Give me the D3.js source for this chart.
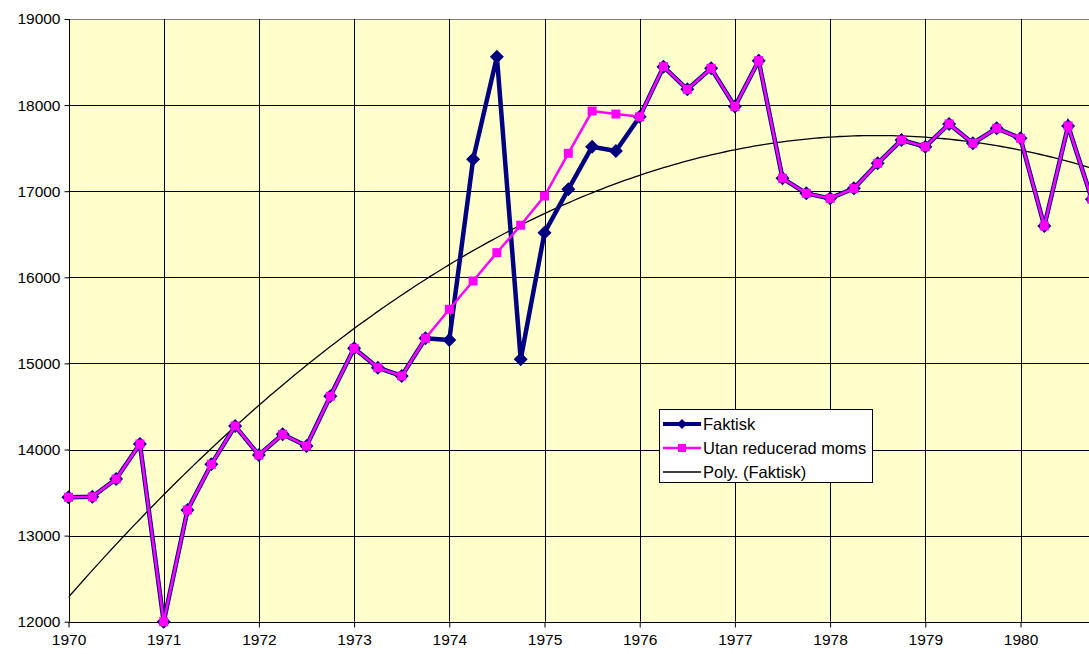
<!DOCTYPE html>
<html><head><meta charset="utf-8">
<script src="https://cdn.jsdelivr.net/npm/d3@7"></script>
<style>body{margin:0;background:#fff;overflow:hidden}svg{display:block}</style>
</head><body>
<script>
// Quarterly data, starting 1970 Q1
const startYear = 1970;
const faktisk = [13445,13450,13657,14064, 12000,13297,13828,14273, 13936,14176,14040,14618,
  15175,14950,14854,15292, 15272,17370,18562,15048, 16518,17022,17517,17467,
  17865,18446,18183,18427, 17983,18516,17150,16975, 16917,17033,17324,17594,
  17517,17781,17557,17731, 17614,16596,17758,16906];
const utan = [13445,13450,13657,14064, 12000,13297,13828,14273, 13936,14176,14040,14618,
  15175,14950,14854,15292, 15628,15957,16286,16605, 16944,17440,17931,17896,
  17865,18446,18183,18427, 17983,18516,17150,16975, 16917,17033,17324,17594,
  17517,17781,17557,17731, 17614,16596,17758,16906];
const yearTicks = [1970,1971,1972,1973,1974,1975,1976,1977,1978,1979,1980];
const yTicks = [12000,13000,14000,15000,16000,17000,18000,19000];
const seriesNames = ["Faktisk","Utan reducerad moms","Poly. (Faktisk)"];

(function(){
const W=1089,H=654;
const pLeft=68.5, pTop=19, pBottom=621.7, yearW=95.2;
const svg=d3.select("body").append("svg").attr("width",W).attr("height",H);
const x=d3.scaleLinear().domain([1970,1981]).range([pLeft,pLeft+11*yearW]);
const y=d3.scaleLinear().domain([12000,19000]).range([pBottom,pTop]);
const font="'Liberation Sans', Arial, sans-serif";

svg.append("rect").attr("x",pLeft).attr("y",pTop).attr("width",x(1981)-pLeft).attr("height",pBottom-pTop).attr("fill","#FFFFCC");
// gridlines
svg.append("g").selectAll("line").data(yTicks).join("line")
  .attr("x1",pLeft).attr("x2",x(1981)).attr("y1",d=>Math.round(y(d))+0.5).attr("y2",d=>Math.round(y(d))+0.5)
  .attr("stroke",d=>d===19000?"#808080":"#000").attr("stroke-width",1);
svg.append("g").selectAll("line").data(yearTicks.slice(1)).join("line")
  .attr("x1",d=>Math.round(x(d))+0.5).attr("x2",d=>Math.round(x(d))+0.5).attr("y1",pTop).attr("y2",pBottom)
  .attr("stroke","#000").attr("stroke-width",1);

// axes
const yAxis=d3.axisLeft(y).tickValues(yTicks).tickSize(5).tickPadding(4).tickFormat(d3.format("d"));
const gy=svg.append("g").attr("transform",`translate(${Math.round(pLeft)+0.5},0)`).call(yAxis);
const xAxis=d3.axisBottom(x).tickValues(yearTicks).tickSize(5).tickPadding(6).tickFormat(d3.format("d"));
const gx=svg.append("g").attr("transform",`translate(0,${Math.round(pBottom)+0.5})`).call(xAxis);
[gx,gy].forEach(g=>{g.select(".domain").attr("stroke","#000");g.selectAll(".tick line").attr("stroke","#000");
  g.selectAll("text").attr("font-family",font).attr("font-size",15.5).attr("fill","#000");});
gx.select(".domain").attr("d",`M${pLeft},0H${x(1981)}`);
gy.select(".domain").attr("d",`M0,${pTop}V${pBottom}`);

// quadratic trendline fitted to Faktisk (least squares)
const ts=faktisk.map((_,i)=>i/4);
function fitQuad(xs,ys){
  let S=[0,0,0,0,0],T=[0,0,0];
  xs.forEach((t,i)=>{let p=1;for(let k=0;k<5;k++){S[k]+=p;if(k<3)T[k]+=p*ys[i];p*=t;}});
  const A=[[S[0],S[1],S[2],T[0]],[S[1],S[2],S[3],T[1]],[S[2],S[3],S[4],T[2]]];
  for(let i=0;i<3;i++){for(let j=i+1;j<3;j++){const f=A[j][i]/A[i][i];for(let k=i;k<4;k++)A[j][k]-=f*A[i][k];}}
  const c=[0,0,0];for(let i=2;i>=0;i--){let s=A[i][3];for(let k=i+1;k<3;k++)s-=A[i][k]*c[k];c[i]=s/A[i][i];}
  return c;
}
const c=fitQuad(ts,faktisk);
const trendT=d3.range(0,11.001,0.05);
svg.append("clipPath").attr("id","pc").append("rect").attr("x",pLeft).attr("y",pTop).attr("width",x(1981)-pLeft).attr("height",pBottom-pTop);
const plot=svg.append("g").attr("clip-path","url(#pc)");
plot.append("path").datum(trendT).attr("fill","none").attr("stroke","#000").attr("stroke-width",1.3)
  .attr("d",d3.line().x(t=>x(1970+t)).y(t=>y(c[0]+c[1]*t+c[2]*t*t)));

const line=d3.line().x((d,i)=>x(startYear+i/4)).y(d=>y(d));
const plot2=svg.append("g");
plot2.append("path").datum(faktisk).attr("fill","none").attr("stroke","#000080").attr("stroke-width",4.5).attr("stroke-linejoin","miter").attr("d",line);
plot2.append("g").selectAll("path").data(faktisk).join("path")
  .attr("transform",(d,i)=>`translate(${x(startYear+i/4)},${y(d)})`)
  .attr("d","M0,-7L7,0L0,7L-7,0Z").attr("fill","#000080");
plot2.append("path").datum(utan).attr("fill","none").attr("stroke","#FF00FF").attr("stroke-width",2.5).attr("d",line);
plot2.append("g").selectAll("rect").data(utan).join("rect")
  .attr("x",(d,i)=>x(startYear+i/4)-4.5).attr("y",d=>y(d)-4.5).attr("width",9).attr("height",9).attr("fill","#FF00FF");

// legend
const lg=svg.append("g").attr("transform","translate(659,409)");
lg.append("rect").attr("x",0.5).attr("y",0.5).attr("width",213).attr("height",73).attr("fill","#fff").attr("stroke","#000");
const rows=[15,39,63];
lg.append("line").attr("x1",4).attr("x2",42).attr("y1",rows[0]).attr("y2",rows[0]).attr("stroke","#000080").attr("stroke-width",4);
lg.append("path").attr("d",`M23,${rows[0]-5}L28,${rows[0]}L23,${rows[0]+5}L18,${rows[0]}Z`).attr("fill","#000080");
lg.append("line").attr("x1",4).attr("x2",42).attr("y1",rows[1]).attr("y2",rows[1]).attr("stroke","#FF00FF").attr("stroke-width",2.5);
lg.append("rect").attr("x",19).attr("y",rows[1]-4).attr("width",8).attr("height",8).attr("fill","#FF00FF");
lg.append("line").attr("x1",4).attr("x2",42).attr("y1",rows[2]).attr("y2",rows[2]).attr("stroke","#000").attr("stroke-width",1.3);
lg.selectAll("text").data(seriesNames).join("text").attr("x",44).attr("y",(d,i)=>rows[i]+6)
  .attr("font-family",font).attr("font-size",16.5).attr("fill","#000").text(d=>d);
})();
</script>
</body></html>
